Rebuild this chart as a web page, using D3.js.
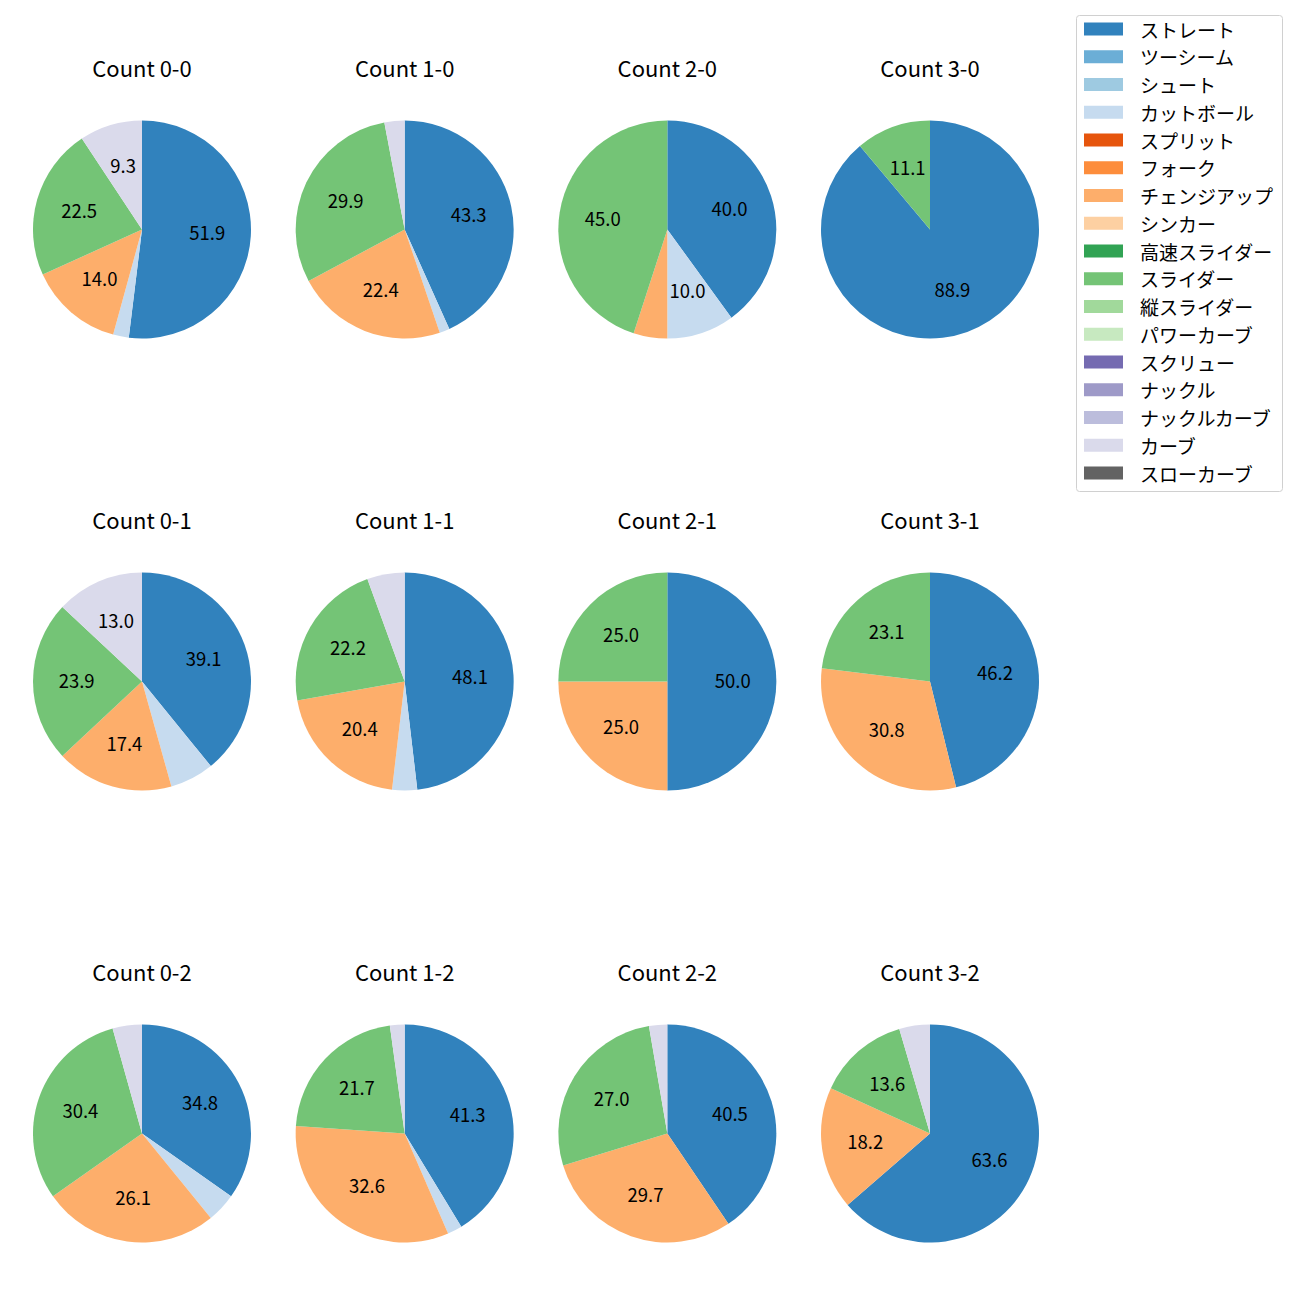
<!DOCTYPE html>
<html><head><meta charset="utf-8">
<script src="https://cdn.jsdelivr.net/npm/d3@7"></script>
<style>body{margin:0;background:#fff}svg{display:block}</style>
</head><body><div id="chart"></div>
<script>
const pitchTypes = ["ストレート","ツーシーム","シュート","カットボール","スプリット","フォーク","チェンジアップ","シンカー","高速スライダー","スライダー","縦スライダー","パワーカーブ","スクリュー","ナックル","ナックルカーブ","カーブ","スローカーブ"];
const pitchColors = ["#3182bd","#6baed6","#9ecae1","#c6dbef","#e6550d","#fd8d3c","#fdae6b","#fdd0a2","#31a354","#74c476","#a1d99b","#c7e9c0","#756bb1","#9e9ac8","#bcbddc","#dadaeb","#636363"];
const countTitles = ["Count 0-0","Count 1-0","Count 2-0","Count 3-0","Count 0-1","Count 1-1","Count 2-1","Count 3-1","Count 0-2","Count 1-2","Count 2-2","Count 3-2"];
// pitch counts per count situation, order matches pitchTypes
const countData = [
  [67,0,0,3,0,0,18,0,0,29,0,0,0,0,0,12,0],
  [29,0,0,1,0,0,15,0,0,20,0,0,0,0,0,2,0],
  [8,0,0,2,0,0,1,0,0,9,0,0,0,0,0,0,0],
  [8,0,0,0,0,0,0,0,0,1,0,0,0,0,0,0,0],
  [18,0,0,3,0,0,8,0,0,11,0,0,0,0,0,6,0],
  [26,0,0,2,0,0,11,0,0,12,0,0,0,0,0,3,0],
  [2,0,0,0,0,0,1,0,0,1,0,0,0,0,0,0,0],
  [6,0,0,0,0,0,4,0,0,3,0,0,0,0,0,0,0],
  [8,0,0,1,0,0,6,0,0,7,0,0,0,0,0,1,0],
  [19,0,0,1,0,0,15,0,0,10,0,0,0,0,0,1,0],
  [15,0,0,0,0,0,11,0,0,10,0,0,0,0,0,1,0],
  [14,0,0,0,0,0,4,0,0,3,0,0,0,0,0,1,0]
];
const labelThreshold = 8;

const W = 1300, H = 1300;
const svg = d3.select("#chart").append("svg").attr("width", W).attr("height", H)
  .style("font-family", "'Noto Sans CJK JP','Noto Sans',sans-serif");

const colX = d3.scalePoint().domain([0,1,2,3]).range([142, 930]);
const rowY = d3.scalePoint().domain([0,1,2]).range([229.5, 1133.5]);
const R = 109;
const color = d3.scaleOrdinal().domain(pitchTypes).range(pitchColors);
const pie = d3.pie().sort(null).value(d => d.v).startAngle(0).endAngle(2*Math.PI);
const arc = d3.arc().innerRadius(0).outerRadius(R);
const labelArc = d3.arc().innerRadius(R*0.6).outerRadius(R*0.6);

countData.forEach((vals, i) => {
  const cx = colX(i % 4), cy = rowY(Math.floor(i / 4));
  const total = d3.sum(vals);
  const items = vals.map((v, k) => ({name: pitchTypes[k], v})).filter(d => d.v > 0);
  const g = svg.append("g").attr("transform", `translate(${cx},${cy})`);
  const arcs = pie(items);
  g.selectAll("path").data(arcs).join("path")
    .attr("d", arc).attr("fill", d => color(d.data.name));
  g.selectAll("text.lbl").data(arcs.filter(d => d.data.v / total * 100 >= labelThreshold)).join("text")
    .attr("class", "lbl")
    .attr("transform", d => { const c = labelArc.centroid(d); return `translate(${c[0]},${c[1] - 1.5})`; })
    .attr("text-anchor", "middle").attr("dominant-baseline", "central")
    .attr("font-size", 18.5).attr("fill", "#000")
    .text(d => (d.data.v / total * 100).toFixed(1));
  svg.append("text").attr("x", cx).attr("y", cy - 163)
    .attr("text-anchor", "middle").attr("dominant-baseline", "central")
    .attr("font-size", 22).attr("fill", "#000").text(countTitles[i]);
});

// legend
const lg = svg.append("g");
lg.append("rect").attr("x", 1076.5).attr("y", 15.5).attr("width", 206).attr("height", 476)
  .attr("rx", 3).attr("fill", "#fff").attr("stroke", "#d0d0d0");
const ly = d3.scaleLinear().domain([0, pitchTypes.length - 1]).range([29, 473]);
pitchTypes.forEach((p, k) => {
  lg.append("rect").attr("x", 1084).attr("y", ly(k) - 6.5).attr("width", 39).attr("height", 13).attr("fill", color(p));
  lg.append("text").attr("x", 1140).attr("y", ly(k)).attr("dominant-baseline", "central")
    .attr("font-size", 19).attr("fill", "#000").text(p);
});
</script></body></html>
